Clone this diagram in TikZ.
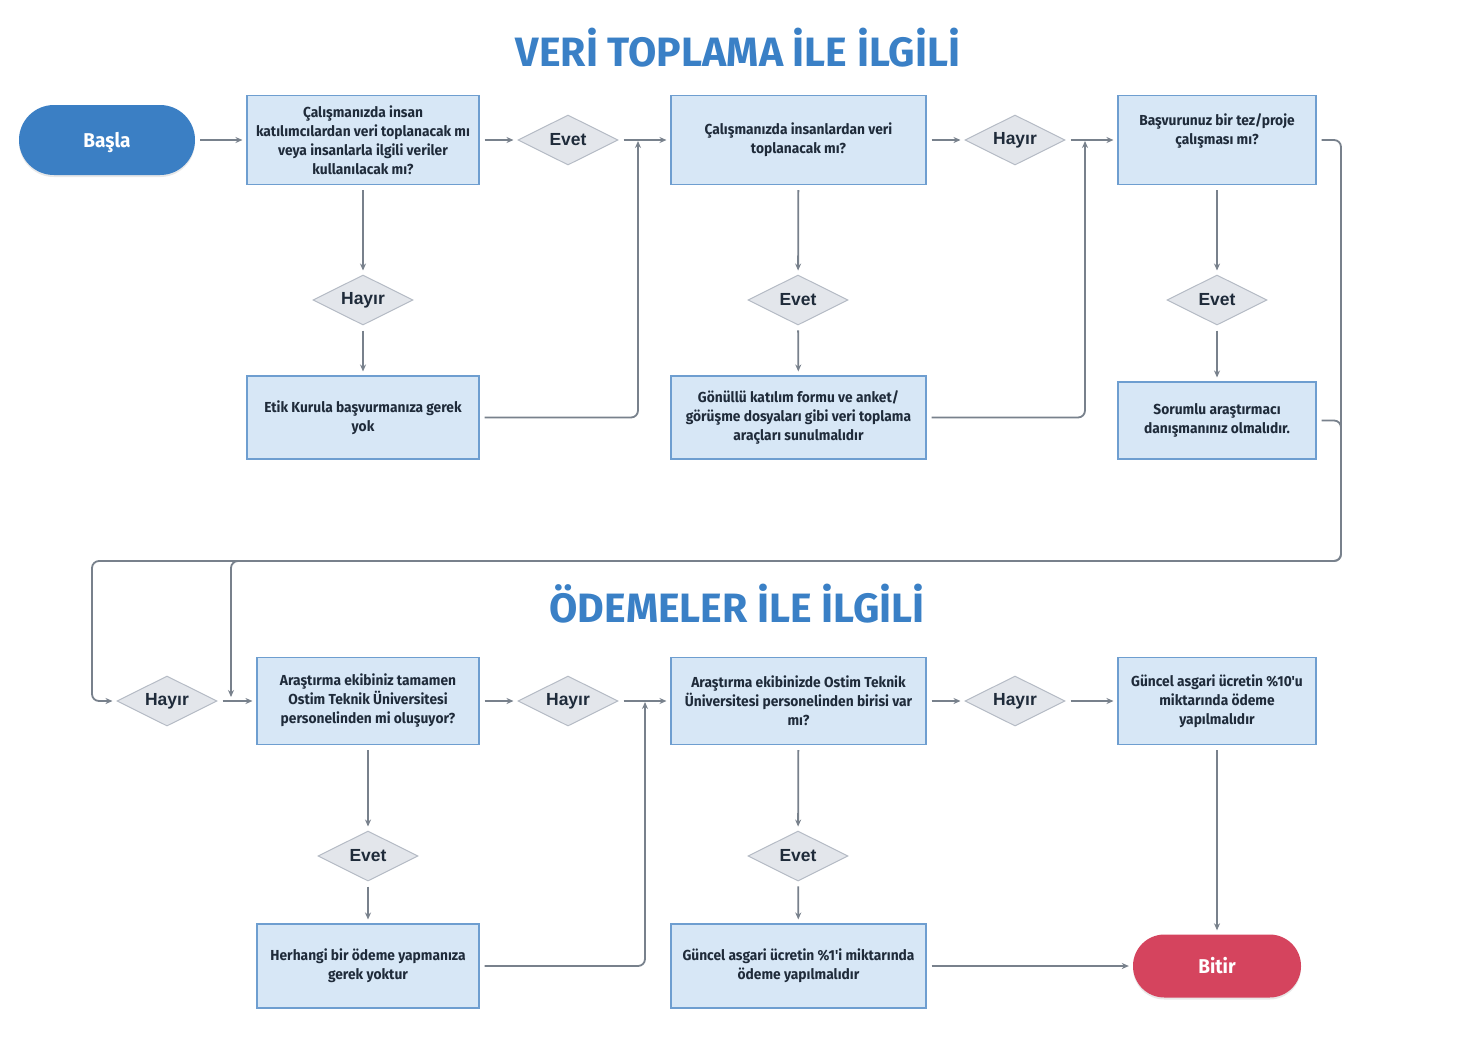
\documentclass[tikz,border=0pt]{standalone}
\usepackage{fontspec}
\setmainfont{Fira Sans}
\newfontfamily\kutufont[FakeStretch=0.95]{Fira Sans}
\newfontfamily\baslikfont{Fira Sans}
\newfontfamily\kararfont{Liberation Sans}
\usetikzlibrary{shapes.geometric,arrows.meta,shadows}

\definecolor{baslikmavi}{HTML}{3A80C6}
\definecolor{basmavi}{HTML}{3B7FC4}
\definecolor{bitkirmizi}{HTML}{D5445E}
\definecolor{kutudolgu}{HTML}{D7E7F6}
\definecolor{kutucizgi}{HTML}{6E9ED0}
\definecolor{karardolgu}{HTML}{E3E6EB}
\definecolor{kararcizgi}{HTML}{B5BBC5}
\definecolor{okgri}{HTML}{78818C}
\definecolor{yazi}{HTML}{1F2B3A}

\tikzset{
  baslik/.style={text=baslikmavi, font=\baslikfont\bfseries\fontsize{41}{46}\selectfont},
  soru/.style={draw=kutucizgi, fill=kutudolgu, line width=1.1pt, inner sep=0pt,
    align=center, text=yazi, font=\kutufont\bfseries\fontsize{14.5}{19}\selectfont},
  karar/.style={diamond, draw=kararcizgi, fill=karardolgu, line width=1pt,
    minimum width=100pt, minimum height=50pt, aspect=2, inner sep=0pt,
    text=yazi, font=\kararfont\bfseries\fontsize{17.5}{20}\selectfont},
  basbit/.style={draw=none, text=white, inner sep=0pt, text height=14pt, text depth=0pt,
    font=\kutufont\bfseries\fontsize{20}{22}\selectfont,
    drop shadow={opacity=0.18, shadow xshift=0pt, shadow yshift=-2pt}},
  ok/.style={draw=okgri, line width=1.8pt, -{Stealth[length=7pt,width=6pt]},
    shorten <=5pt, shorten >=4pt},
  kol/.style={ok, rounded corners=7pt},
}

\begin{document}
\begin{tikzpicture}[x=1pt, y=-1pt]
  \useasboundingbox (0,0) rectangle (1474,1037);
  \fill[white] (0,0) rectangle (1474,1037);

  % basliklar
  \node [baslik] (t1) at (738,48) {VERİ TOPLAMA İLE İLGİLİ};
  \node [baslik] (t2) at (737,604) {ÖDEMELER İLE İLGİLİ};

  % ust sira
  \node [basbit, fill=basmavi, minimum width=176pt, minimum height=70pt,
         rounded corners=34.9pt] (basla) at (107,140) {Başla};
  \node [soru, minimum width=232pt, minimum height=89pt] (a1) at (363,140)
        {Çalışmanızda insan\\katılımcılardan veri toplanacak mı\\veya insanlarla ilgili veriler\\kullanılacak mı?};
  \node [karar] (e1) at (568,140) {Evet};
  \node [soru, minimum width=255pt, minimum height=89pt] (a2) at (798.5,140) {};
  \node [text=yazi, align=center, font=\kutufont\bfseries\fontsize{14.5}{19}\selectfont]
        (a2t) at (798.5,140) {Çalışmanızda insanlardan veri\\toplanacak mı?};
  \node [karar] (h1) at (1015,140) {Hayır};
  \node [soru, minimum width=198pt, minimum height=89pt] (a3) at (1217,140) {};
  \node [text=yazi, align=center, font=\kutufont\bfseries\fontsize{14.5}{19}\selectfont]
        (a3t) at (1217,130.5) {Başvurunuz bir tez/proje\\çalışması mı?};

  \node [karar] (h2) at (363,300) {Hayır};
  \node [karar] (e2) at (798,300) {Evet};
  \node [karar] (e3) at (1217,300) {Evet};

  \node [soru, minimum width=232pt, minimum height=83pt] (b1) at (363,417.5)
        {Etik Kurula başvurmanıza gerek\\yok};
  \node [soru, minimum width=255pt, minimum height=83pt] (b2) at (798.5,417.5)
        {Gönüllü katılım formu ve anket/\\görüşme dosyaları gibi veri toplama\\araçları sunulmalıdır};
  \node [soru, minimum width=198pt, minimum height=77pt] (b3) at (1217,420.5)
        {Sorumlu araştırmacı\\danışmanınız olmalıdır.};

  % alt sira
  \node [karar] (h3) at (167,701) {Hayır};
  \node [soru, minimum width=222pt, minimum height=87pt] (c1) at (368,701)
        {Araştırma ekibiniz tamamen\\Ostim Teknik Üniversitesi\\personelinden mi oluşuyor?};
  \node [karar] (h4) at (568,701) {Hayır};
  \node [soru, minimum width=255pt, minimum height=87pt] (c2) at (798.5,701)
        {Araştırma ekibinizde Ostim Teknik\\Üniversitesi personelinden birisi var\\mı?};
  \node [karar] (h5) at (1015,701) {Hayır};
  \node [soru, minimum width=198pt, minimum height=87pt] (c3) at (1217,701)
        {Güncel asgari ücretin \%10'u\\miktarında ödeme\\yapılmalıdır};

  \node [karar] (e4) at (368,856) {Evet};
  \node [karar] (e5) at (798,856) {Evet};

  \node [soru, minimum width=222pt, minimum height=84pt] (d1) at (368,966)
        {Herhangi bir ödeme yapmanıza\\gerek yoktur};
  \node [soru, minimum width=255pt, minimum height=84pt] (d2) at (798.5,966)
        {Güncel asgari ücretin \%1'i miktarında\\ödeme yapılmalıdır};
  \node [basbit, fill=bitkirmizi, minimum width=168pt, minimum height=63pt,
         rounded corners=31.4pt] (bitir) at (1217,966) {Bitir};

  % birlesme noktalari
  \coordinate (j1) at (638,140);
  \coordinate (j2) at (1085,140);
  \coordinate (sag) at (1341,561);
  \coordinate (sol) at (92,561);
  \coordinate (dal) at (231,561);
  \coordinate (dalson) at (231,701);
  \coordinate (j3) at (645,701);

  % oklar
  \draw [ok] (basla) -- (a1);
  \draw [ok] (a1) -- (e1);
  \draw [ok] (e1) -- (a2);
  \draw [ok] (a2) -- (h1);
  \draw [ok] (h1) -- (a3);
  \draw [ok] (a1) -- (h2);
  \draw [ok] (h2) -- (b1);
  \draw [ok] (a2) -- (e2);
  \draw [ok] (e2) -- (b2);
  \draw [ok] (a3) -- (e3);
  \draw [ok] (e3) -- (b3);
  \draw [kol, shorten >=1pt] (b1.east) -| (j1);
  \draw [kol, shorten >=1pt] (b2.east) -| (j2);
  \draw [kol] (a3.east) -| (sag) -- (sol) |- (h3.west);
  \draw [kol] (b3.east) -| (sag) -- (dal) -- (dalson);

  \draw [ok] (h3) -- (c1);
  \draw [ok] (c1) -- (h4);
  \draw [ok] (h4) -- (c2);
  \draw [ok] (c2) -- (h5);
  \draw [ok] (h5) -- (c3);
  \draw [ok] (c1) -- (e4);
  \draw [ok] (e4) -- (d1);
  \draw [ok] (c2) -- (e5);
  \draw [ok] (e5) -- (d2);
  \draw [kol, shorten >=1pt] (d1.east) -| (j3);
  \draw [ok] (d2) -- (bitir);
  \draw [ok] (c3) -- (bitir);
\end{tikzpicture}
\end{document}
